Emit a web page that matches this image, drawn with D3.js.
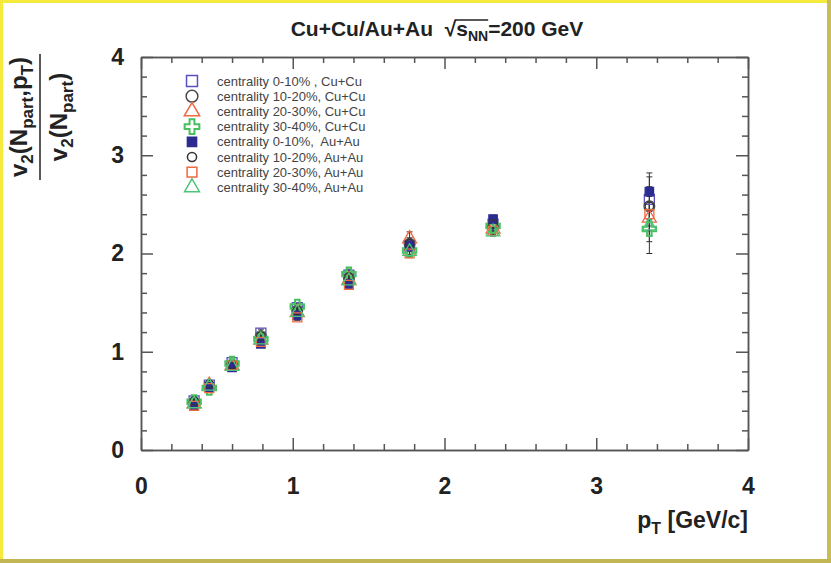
<!DOCTYPE html>
<html>
<head>
<meta charset="utf-8">
<script src="https://cdn.jsdelivr.net/npm/d3@7"></script>
<style>
  body { margin: 0; background: #fff; }
  svg { display: block; font-family: "Liberation Sans", Arial, sans-serif; }
</style>
</head>
<body>
<div id="chart"></div>
<script>
// chart size
var svgWidth = 831;
var svgHeight = 563;

// pT bins (GeV/c)
var pt = [0.35, 0.45, 0.6, 0.79, 1.03, 1.37, 1.77, 2.32, 3.35];

// v2(Npart,pT)/v2(Npart) for each centrality / system
var cuCu0_10  = [0.50, 0.66, 0.89, 1.19, 1.45, 1.78, 2.08, 2.30, 2.55];
var cuCu10_20 = [0.48, 0.64, 0.87, 1.16, 1.42, 1.75, 2.10, 2.27, 2.48];
var cuCu20_30 = [0.47, 0.66, 0.86, 1.12, 1.40, 1.73, 2.15, 2.25, 2.36];
var cuCu30_40 = [0.49, 0.63, 0.88, 1.13, 1.46, 1.79, 2.03, 2.28, 2.25];
var auAu0_10  = [0.45, 0.64, 0.84, 1.08, 1.37, 1.69, 2.08, 2.35, 2.63];
var auAu10_20 = [0.50, 0.67, 0.87, 1.16, 1.42, 1.76, 2.10, 2.30, 2.48];
var auAu20_30 = [0.45, 0.63, 0.86, 1.10, 1.35, 1.68, 2.00, 2.23, 2.40];
var auAu30_40 = [0.47, 0.65, 0.85, 1.12, 1.40, 1.72, 2.02, 2.22, 2.28];

// errors
var cuCu0_10Err  = [0.03, 0.03, 0.03, 0.04, 0.04, 0.05, 0.06, 0.07, 0.27];
var cuCu10_20Err = [0.03, 0.03, 0.03, 0.04, 0.04, 0.05, 0.06, 0.07, 0.30];
var cuCu20_30Err = [0.03, 0.03, 0.03, 0.04, 0.04, 0.05, 0.07, 0.07, 0.24];
var cuCu30_40Err = [0.03, 0.03, 0.03, 0.04, 0.04, 0.05, 0.06, 0.07, 0.25];
var auAuErr      = [0.02, 0.02, 0.02, 0.02, 0.03, 0.03, 0.03, 0.04, 0.05];

var legendLabels = [
  "centrality 0-10% , Cu+Cu",
  "centrality 10-20%, Cu+Cu",
  "centrality 20-30%, Cu+Cu",
  "centrality 30-40%, Cu+Cu",
  "centrality 0-10%,  Au+Au",
  "centrality 10-20%, Au+Au",
  "centrality 20-30%, Au+Au",
  "centrality 30-40%, Au+Au"
];

var xTicks = [0, 1, 2, 3, 4];
var yTicks = [0, 1, 2, 3, 4];

// series styling (marker, colour, fill)
var series = [
  {vals: cuCu0_10,  err: cuCu0_10Err,  sym: d3.symbolSquare,   size: 100, color: "#5b50c0", fill: false},
  {vals: cuCu10_20, err: cuCu10_20Err, sym: d3.symbolCircle,   size: 90,  color: "#4a4a4a", fill: false},
  {vals: cuCu20_30, err: cuCu20_30Err, sym: d3.symbolTriangle, size: 85,  color: "#ee6a45", fill: false},
  {vals: cuCu30_40, err: cuCu30_40Err, sym: d3.symbolCross,    size: 100, color: "#47c060", fill: false, sw: 2},
  {vals: auAu0_10,  err: auAuErr,      sym: d3.symbolSquare,   size: 70,  color: "#2c2c90", fill: true},
  {vals: auAu10_20, err: auAuErr,      sym: d3.symbolCircle,   size: 55,  color: "#333333", fill: false},
  {vals: auAu20_30, err: auAuErr,      sym: d3.symbolSquare,   size: 80,  color: "#f06a40", fill: false},
  {vals: auAu30_40, err: auAuErr,      sym: d3.symbolTriangle, size: 80,  color: "#4cc479", fill: false}
];

var svg = d3.select("#chart")
  .append("svg")
  .attr("width", svgWidth)
  .attr("height", svgHeight);

// yellow frame around the figure
svg.append("rect").attr("x", 0).attr("y", 0).attr("width", svgWidth).attr("height", svgHeight).attr("fill", "#fff");
svg.append("rect").attr("x", 0).attr("y", 0).attr("width", 3).attr("height", svgHeight).attr("fill", "#f5ea3c");
svg.append("rect").attr("x", 0).attr("y", 0).attr("width", svgWidth).attr("height", 3).attr("fill", "#f5ea3c");
svg.append("rect").attr("x", 827).attr("y", 0).attr("width", 4).attr("height", svgHeight).attr("fill", "#c9bd5a");
svg.append("rect").attr("x", 0).attr("y", 559).attr("width", svgWidth).attr("height", 4).attr("fill", "#c2b553");

// scales
var x = d3.scaleLinear().domain([0, 4]).range([141, 748]);
var y = d3.scaleLinear().domain([0, 4]).range([450, 57]);

var minorX = d3.range(0, 4.001, 0.2).filter(d => Math.abs(d - Math.round(d)) > 1e-6);
var minorY = minorX;
var axisColor = "#555";

function styleAxis(g) {
  g.select(".domain").attr("stroke", axisColor).attr("stroke-width", 1.5);
  g.selectAll(".tick line").attr("stroke", axisColor).attr("stroke-width", 1.5);
}

// bottom axis with labels
var bottomAxis = svg.append("g")
  .attr("transform", "translate(0,450)")
  .call(d3.axisBottom(x).tickValues(xTicks).tickSizeInner(-12).tickSizeOuter(0).tickPadding(28).tickFormat(d3.format("d")));
styleAxis(bottomAxis);
bottomAxis.selectAll("text").attr("font-size", 23).attr("font-weight", "bold").attr("fill", "#222")
  .attr("font-family", "Liberation Sans, Arial, sans-serif");
svg.append("g").attr("transform", "translate(0,450)")
  .call(d3.axisBottom(x).tickValues(minorX).tickSizeInner(-6).tickSizeOuter(0).tickFormat(""))
  .call(styleAxis);

// top axis
svg.append("g").attr("transform", "translate(0,57)")
  .call(d3.axisTop(x).tickValues(xTicks).tickSizeInner(-12).tickSizeOuter(0).tickFormat(""))
  .call(styleAxis);
svg.append("g").attr("transform", "translate(0,57)")
  .call(d3.axisTop(x).tickValues(minorX).tickSizeInner(-6).tickSizeOuter(0).tickFormat(""))
  .call(styleAxis);

// left axis with labels
var leftAxis = svg.append("g")
  .attr("transform", "translate(141,0)")
  .call(d3.axisLeft(y).tickValues(yTicks).tickSizeInner(-12).tickSizeOuter(0).tickPadding(17).tickFormat(d3.format("d")));
styleAxis(leftAxis);
leftAxis.selectAll("text").attr("font-size", 23).attr("font-weight", "bold").attr("fill", "#222")
  .attr("font-family", "Liberation Sans, Arial, sans-serif");
svg.append("g").attr("transform", "translate(141,0)")
  .call(d3.axisLeft(y).tickValues(minorY).tickSizeInner(-6).tickSizeOuter(0).tickFormat(""))
  .call(styleAxis);

// right axis
svg.append("g").attr("transform", "translate(748,0)")
  .call(d3.axisRight(y).tickValues(yTicks).tickSizeInner(-12).tickSizeOuter(0).tickFormat(""))
  .call(styleAxis);
svg.append("g").attr("transform", "translate(748,0)")
  .call(d3.axisRight(y).tickValues(minorY).tickSizeInner(-6).tickSizeOuter(0).tickFormat(""))
  .call(styleAxis);

// data: error bars then markers
var plot = svg.append("g");
series.forEach(function(s) {
  var pts = pt.map((p, i) => ({p: p, v: s.vals[i], e: s.err[i]}));
  var eb = plot.append("g").attr("stroke", "#333").attr("stroke-width", 1);
  eb.selectAll("line.bar").data(pts).enter().append("line")
    .attr("x1", d => x(d.p)).attr("x2", d => x(d.p))
    .attr("y1", d => y(d.v - d.e)).attr("y2", d => y(d.v + d.e));
  eb.selectAll("line.capT").data(pts).enter().append("line")
    .attr("x1", d => x(d.p) - 3).attr("x2", d => x(d.p) + 3)
    .attr("y1", d => y(d.v + d.e)).attr("y2", d => y(d.v + d.e));
  eb.selectAll("line.capB").data(pts).enter().append("line")
    .attr("x1", d => x(d.p) - 3).attr("x2", d => x(d.p) + 3)
    .attr("y1", d => y(d.v - d.e)).attr("y2", d => y(d.v - d.e));
});
series.forEach(function(s) {
  var pts = pt.map((p, i) => ({p: p, v: s.vals[i]}));
  plot.append("g").selectAll("path").data(pts).enter().append("path")
    .attr("d", d3.symbol().type(s.sym).size(s.size))
    .attr("transform", d => `translate(${x(d.p)},${y(d.v)})`)
    .attr("fill", s.fill ? s.color : "none")
    .attr("stroke", s.color)
    .attr("stroke-width", s.sw || 1.3);
});

// legend
var legend = svg.append("g");
legendLabels.forEach(function(lab, i) {
  var ly = 81 + i * 15.2;
  var s = series[i];
  legend.append("path")
    .attr("d", d3.symbol().type(s.sym).size(s.size * 1.2))
    .attr("transform", `translate(192,${ly})`)
    .attr("fill", s.fill ? s.color : "none")
    .attr("stroke", s.color)
    .attr("stroke-width", s.sw || 1.5);
  legend.append("text")
    .attr("x", 217).attr("y", ly + 4.5)
    .attr("font-size", 13).attr("fill", "#444")
    .attr("xml:space", "preserve")
    .style("white-space", "pre")
    .text(lab);
});

// title with square root
var title = svg.append("text")
  .attr("x", 437).attr("y", 36)
  .attr("text-anchor", "middle")
  .attr("font-size", 21).attr("font-weight", "bold").attr("fill", "#222")
  .style("white-space", "pre");
title.append("tspan").text("Cu+Cu/Au+Au  \u221A");
var sT = title.append("tspan").text("s");
title.append("tspan").attr("font-size", 14).attr("dy", 5).text("NN");
title.append("tspan").attr("dy", -5).text("=200 GeV");
// overline of the root
var tn = title.node();
var full = tn.textContent;
var i0 = full.indexOf("\u221A");
var rootBox = tn.getExtentOfChar(i0);
var lastN = tn.getExtentOfChar(i0 + 3);
svg.append("line")
  .attr("x1", rootBox.x + rootBox.width - 1).attr("x2", lastN.x + lastN.width)
  .attr("y1", rootBox.y + 3).attr("y2", rootBox.y + 3)
  .attr("stroke", "#222").attr("stroke-width", 1.3);

// x axis title
var xt = svg.append("text")
  .attr("x", 748).attr("y", 528)
  .attr("text-anchor", "end")
  .attr("font-size", 23).attr("font-weight", "bold").attr("fill", "#222");
xt.append("tspan").text("p");
xt.append("tspan").attr("font-size", 16).attr("dy", 6).text("T");
xt.append("tspan").attr("dy", -6).text(" [GeV/c]");

// y axis title: fraction, rotated
var yl = svg.append("g").attr("transform", "translate(0,117) rotate(-90)");
var num = yl.append("text")
  .attr("x", 0).attr("y", 27)
  .attr("text-anchor", "middle")
  .attr("font-size", 24).attr("font-weight", "bold").attr("fill", "#222");
num.append("tspan").text("v");
num.append("tspan").attr("font-size", 17).attr("dy", 6).text("2");
num.append("tspan").attr("dy", -6).text("(N");
num.append("tspan").attr("font-size", 17).attr("dy", 6).text("part");
num.append("tspan").attr("dy", -6).text(",p");
num.append("tspan").attr("font-size", 17).attr("dy", 6).text("T");
num.append("tspan").attr("dy", -6).text(")");
yl.append("line")
  .attr("x1", -63).attr("x2", 63).attr("y1", 40).attr("y2", 40)
  .attr("stroke", "#222").attr("stroke-width", 1.5);
var den = yl.append("text")
  .attr("x", 0).attr("y", 67)
  .attr("text-anchor", "middle")
  .attr("font-size", 24).attr("font-weight", "bold").attr("fill", "#222");
den.append("tspan").text("v");
den.append("tspan").attr("font-size", 17).attr("dy", 6).text("2");
den.append("tspan").attr("dy", -6).text("(N");
den.append("tspan").attr("font-size", 17).attr("dy", 6).text("part");
den.append("tspan").attr("dy", -6).text(")");
</script>
</body>
</html>
